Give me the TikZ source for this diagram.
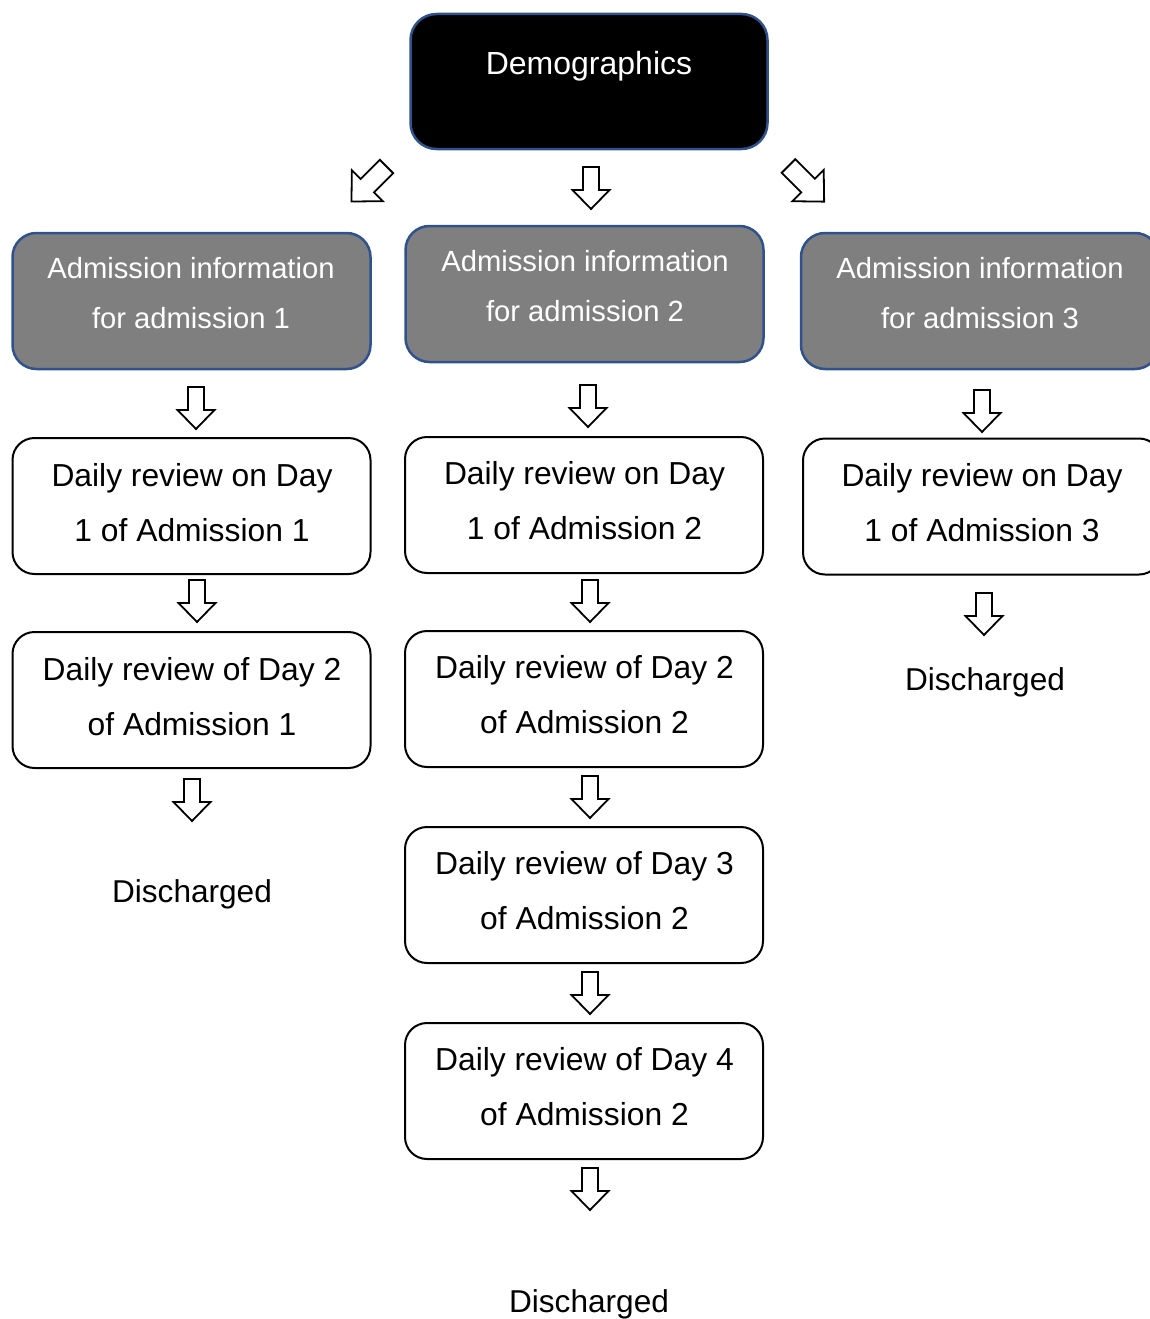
\documentclass[tikz,border=0pt]{standalone}
\usepackage{fontspec}
\setmainfont{Liberation Sans}
\definecolor{edgeblue}{RGB}{47,82,143}
\definecolor{infogrey}{RGB}{127,127,127}
\begin{document}
\begin{tikzpicture}[x=1pt,y=-1pt,
  reviewbox/.style={draw=black, line width=2pt, rounded corners=22pt, fill=white,
    minimum width=358pt, minimum height=136pt, inner sep=0pt},
  infobox/.style={draw=edgeblue, line width=2.5pt, rounded corners=24pt, fill=infogrey,
    minimum width=358pt, minimum height=136pt, inner sep=0pt},
  headbox/.style={draw=edgeblue, line width=2.5pt, rounded corners=26pt, fill=black,
    minimum width=357pt, minimum height=135pt, inner sep=0pt},
  reviewtext/.style={align=center, inner sep=0pt, font=\fontsize{31.8}{55}\selectfont},
  infotext/.style={align=center, inner sep=0pt, text=white, font=\fontsize{29.2}{50}\selectfont},
  endtext/.style={inner sep=0pt, font=\fontsize{31.6}{38}\selectfont},
  pics/blockarrow/.style={code={
    \draw[line width=1.8pt, fill=white, line join=miter]
      (-8,0) -- (8,0) -- (8,23) -- (18.5,23) -- (0,42) -- (-18.5,23) -- (-8,23) -- cycle;}}
]
\useasboundingbox (0,0) rectangle (1150,1319);
\clip (0,0) rectangle (1150,1319);

% top box
\node[headbox] (demo) at (589,81.5) {};
\node[inner sep=0pt, text=white, font=\fontsize{32}{38}\selectfont] (demo-t) at (589,66.5) {Demographics};

% admission information boxes
\node[infobox] (info1) at (191.5,301) {};
\node[infobox] (info2) at (584.5,294) {};
\node[infobox] (info3) at (980,301) {};
\node[infotext] (info1-t) at (191,293) {Admission information\\for admission 1};
\node[infotext] (info2-t) at (585,286.5) {Admission information\\for admission 2};
\node[infotext] (info3-t) at (980,293) {Admission information\\for admission 3};

% admission 1
\node[reviewbox] (a1d1) at (191.5,506) {};
\node[reviewtext] (a1d1-t) at (192,502.5) {Daily review on Day\\1 of Admission 1};
\node[reviewbox] (a1d2) at (191.5,700) {};
\node[reviewtext] (a1d2-t) at (192,696.5) {Daily review of Day 2\\of Admission 1};
\node[endtext] (a1end) at (192,894) {Discharged};

% admission 2
\node[reviewbox] (a2d1) at (584,505) {};
\node[reviewtext] (a2d1-t) at (584.5,500.5) {Daily review on Day\\1 of Admission 2};
\node[reviewbox] (a2d2) at (584,699) {};
\node[reviewtext] (a2d2-t) at (584.5,694.5) {Daily review of Day 2\\of Admission 2};
\node[reviewbox] (a2d3) at (584,895) {};
\node[reviewtext] (a2d3-t) at (584.5,891) {Daily review of Day 3\\of Admission 2};
\node[reviewbox] (a2d4) at (584,1091) {};
\node[reviewtext] (a2d4-t) at (584.5,1087) {Daily review of Day 4\\of Admission 2};
\node[endtext] (a2end) at (589,1304) {Discharged};

% admission 3
\node[reviewbox] (a3d1) at (982,506.5) {};
\node[reviewtext] (a3d1-t) at (982,502.5) {Daily review on Day\\1 of Admission 3};
\node[endtext] (a3end) at (985,682) {Discharged};

% flow arrows
\pic[rotate=-45, scale=1.18] at (386.5,166.5) {blockarrow};
\pic at (591,167) {blockarrow};
\pic[rotate=45, scale=1.2] at (788.5,166) {blockarrow};

\pic at (196,387) {blockarrow};
\pic at (197,580) {blockarrow};
\pic at (192,779) {blockarrow};

\pic at (588,385) {blockarrow};
\pic at (590,580) {blockarrow};
\pic at (590,776) {blockarrow};
\pic at (590,972) {blockarrow};
\pic at (590,1168) {blockarrow};

\pic at (982,390) {blockarrow};
\pic at (984,593) {blockarrow};
\end{tikzpicture}
\end{document}
